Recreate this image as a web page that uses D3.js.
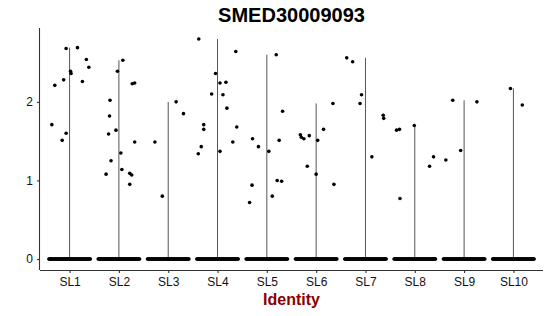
<!DOCTYPE html>
<html>
<head>
<meta charset="utf-8">
<script src="https://cdn.jsdelivr.net/npm/d3@7"></script>
<style>
  body { margin: 0; background: #fff; }
  text { font-family: "Liberation Sans", Arial, sans-serif; }
</style>
</head>
<body>
<div id="chart"></div>
<script>
// chart data: clusters, non-zero expression values and their jitter (fraction of a band)
var categories = ["SL1", "SL2", "SL3", "SL4", "SL5", "SL6", "SL7", "SL8", "SL9", "SL10"];
var yTicks = [0, 1, 2];

var values = [
  [2.68, 2.69, 2.54, 2.44, 2.39, 2.36, 2.26, 2.28, 2.21, 1.71, 1.60, 1.51],
  [2.53, 2.39, 2.23, 2.24, 2.02, 1.82, 1.59, 1.64, 1.49, 1.35, 1.25, 1.08, 1.14, 1.09, 1.07, 0.95],
  [2.00, 1.85, 1.49, 0.80],
  [2.80, 2.64, 2.36, 2.24, 2.25, 2.10, 2.09, 1.92, 1.71, 1.65, 1.68, 1.43, 1.34, 1.49, 1.37],
  [2.60, 1.88, 1.53, 1.43, 1.51, 1.37, 0.94, 1.00, 0.99, 0.80, 0.72],
  [1.98, 1.65, 1.58, 1.55, 1.53, 1.57, 1.51, 1.18, 1.08, 0.95],
  [2.56, 2.51, 2.09, 1.98, 1.83, 1.79, 1.30],
  [1.70, 1.64, 1.65, 1.30, 1.18, 0.77],
  [2.02, 2.00, 1.38, 1.26],
  [2.17, 1.96]
];

var jitter = [
  [-0.07, 0.16, 0.34, 0.39, 0.02, 0.03, 0.26, -0.12, -0.30, -0.36, -0.07, -0.15],
  [0.08, -0.03, 0.27, 0.32, -0.18, -0.19, -0.21, -0.06, 0.32, 0.04, -0.16, -0.26, 0.06, 0.22, 0.26, 0.22],
  [0.16, 0.31, -0.27, -0.12],
  [-0.38, 0.37, -0.04, 0.05, 0.17, -0.12, 0.11, 0.19, -0.28, -0.28, 0.39, -0.33, -0.39, 0.31, 0.05],
  [0.19, 0.32, -0.29, -0.17, 0.25, 0.04, -0.30, 0.21, 0.30, 0.11, -0.35],
  [0.34, 0.15, -0.32, -0.30, -0.25, -0.14, 0.03, -0.18, 0.00, 0.36],
  [-0.38, -0.26, -0.08, -0.11, 0.36, 0.37, 0.13],
  [-0.01, -0.37, -0.31, 0.38, 0.30, -0.30],
  [-0.23, 0.26, -0.07, -0.37],
  [-0.06, 0.18]
];

// number of cells with zero expression in each cluster
var zeroCounts = [70, 75, 70, 70, 65, 70, 70, 70, 70, 70];

var areaWidth = 550, areaHeight = 316;
var margin = { left: 40, right: 7, top: 28, bottom: 46 };

var svg = d3.select("#chart").append("svg")
  .attr("width", areaWidth)
  .attr("height", areaHeight);

// ggplot style discrete scale: 0.6 band expansion each side
var xScale = d3.scalePoint()
  .domain(categories)
  .range([margin.left, areaWidth - margin.right])
  .padding(0.6);
var step = xScale.step();

var yScale = d3.scaleLinear()
  .domain([-0.14, 2.94])
  .range([areaHeight - margin.bottom, margin.top]);

// build flat list of points
var points = [];
categories.forEach(function (c, i) {
  values[i].forEach(function (v, j) {
    points.push({ cat: c, value: v, jit: jitter[i][j] });
  });
  for (var k = 0; k < zeroCounts[i]; k++) {
    points.push({ cat: c, value: 0, jit: -0.42 + 0.84 * k / (zeroCounts[i] - 1) });
  }
});

// thin violins: show as a line from 0 up to the max value
svg.selectAll("line.violin")
  .data(categories)
  .enter()
  .append("line")
  .attr("class", "violin")
  .attr("x1", function (d) { return xScale(d); })
  .attr("x2", function (d) { return xScale(d); })
  .attr("y1", function () { return yScale(0); })
  .attr("y2", function (d, i) { return yScale(d3.max(values[i])); })
  .style("stroke", "#555")
  .style("stroke-width", 1);

svg.selectAll("circle")
  .data(points)
  .enter()
  .append("circle")
  .attr("cx", function (d) { return xScale(d.cat) + d.jit * step; })
  .attr("cy", function (d) { return yScale(d.value); })
  .attr("r", 1.8)
  .style("fill", "black");

// axes
var xAxis = svg.append("g")
  .attr("transform", "translate(0," + (areaHeight - margin.bottom) + ")")
  .call(d3.axisBottom(xScale).tickSizeOuter(0).tickSize(3).tickPadding(4));

var yAxis = svg.append("g")
  .attr("transform", "translate(" + margin.left + ",0)")
  .call(d3.axisLeft(yScale).tickValues(yTicks).tickFormat(d3.format("d"))
    .tickSizeOuter(0).tickSize(3).tickPadding(4));

xAxis.select(".domain").attr("d", "M" + margin.left + ",0.5H" + (areaWidth - margin.right));
yAxis.select(".domain").attr("d", "M-0.5," + margin.top + "V" + (areaHeight - margin.bottom));

[xAxis, yAxis].forEach(function (ax) {
  ax.selectAll(".domain, line").style("stroke", "#333").style("stroke-width", 1.1);
  ax.selectAll("text")
    .style("font-size", "12px")
    .style("fill", "#111")
    .style("font-family", "'Liberation Sans', Arial, sans-serif");
});

// title and x label
svg.append("text")
  .text("SMED30009093")
  .attr("x", (margin.left + areaWidth - margin.right) / 2)
  .attr("y", 22)
  .attr("text-anchor", "middle")
  .style("font-size", "20px")
  .style("font-weight", "bold")
  .style("fill", "black");

svg.append("text")
  .text("Identity")
  .attr("x", (margin.left + areaWidth - margin.right) / 2)
  .attr("y", 305)
  .attr("text-anchor", "middle")
  .style("font-size", "16px")
  .style("font-weight", "bold")
  .style("fill", "#8B0000");
</script>
</body>
</html>
